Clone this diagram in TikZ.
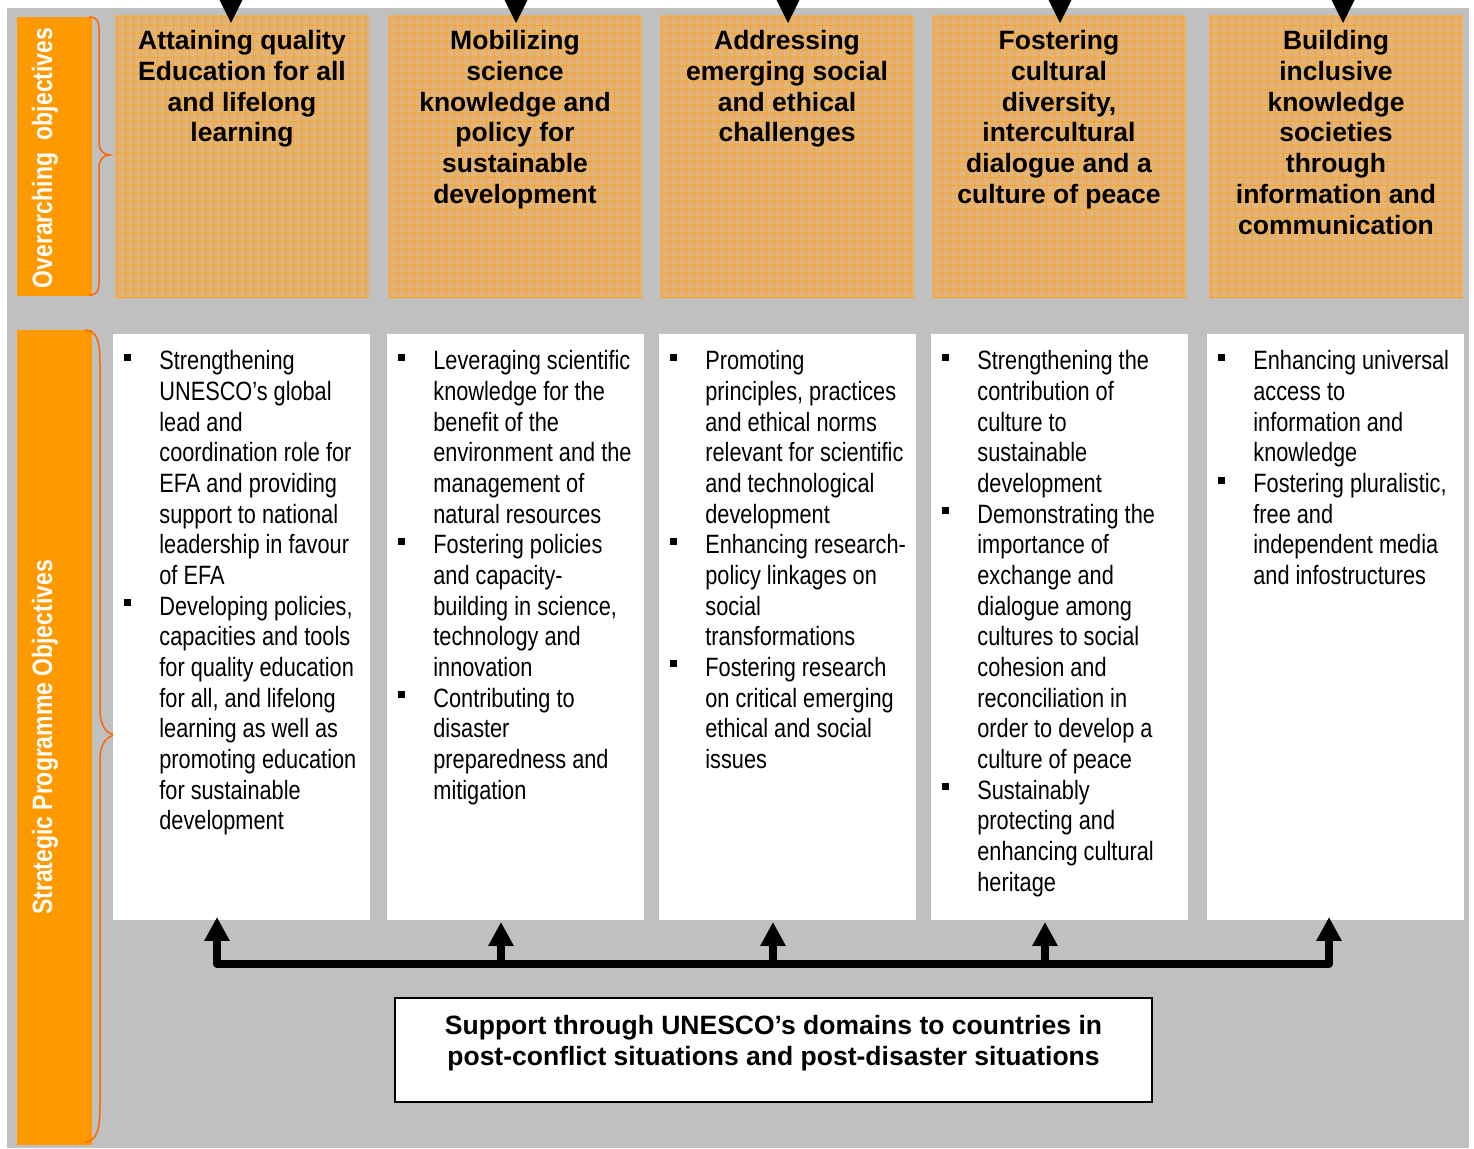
\documentclass[tikz,border=0pt]{standalone}
\usepackage{fontspec}
\setmainfont{Liberation Sans}
\newfontfamily\narrow{Liberation Sans}[FakeStretch=0.82]
\usetikzlibrary{arrows.meta,calc}

\definecolor{panelgray}{RGB}{192,192,192}
\definecolor{labelorange}{RGB}{255,153,0}
\definecolor{bracered}{RGB}{255,102,0}
\definecolor{tanfill}{RGB}{224,180,122}
\definecolor{gridorange}{RGB}{248,164,40}

% bullet square hanging to the left of an item's first line
\newcommand\bul{\llap{\rule[4.5pt]{3.5pt}{3.5pt}\hspace{14.25pt}}}
\newcommand\topline{\rule{0pt}{10pt}}

\begin{document}
\begin{tikzpicture}[x=0.5pt,y=-0.5pt,
  objbox/.style={fill=tanfill, minimum width=127pt, minimum height=141.5pt, inner sep=0},
  progbox/.style={fill=white, minimum width=128.5pt, minimum height=293pt, inner sep=0},
  titletext/.style={anchor=north, inner sep=0, align=center,
    font=\bfseries\fontsize{13.25pt}{15.42pt}\selectfont},
  bullets/.style={anchor=north west, inner sep=0, align=left,
    font=\narrow\fontsize{13.25pt}{15.33pt}\selectfont},
  sidelabel/.style={rotate=90, anchor=base, inner sep=0, text=white,
    font=\narrow\bfseries\fontsize{14pt}{16pt}\selectfont},
  sidebar/.style={fill=labelorange, minimum width=37.5pt, inner sep=0},
  bracepath/.style={draw=bracered, line width=0.75pt},
  gridl/.style={draw=gridorange, line width=0.55pt},
  bus/.style={line width=3.75pt, line join=round},
  uptip/.style={-{Triangle[length=12pt,width=12pt]}},
  downmark/.style={fill=black}]

\useasboundingbox (0,0) rectangle (1474,1149);

% panel background
\fill[panelgray] (7,8) rectangle (1469,1148);

% side bars
\node[sidebar, minimum height=139.5pt] (ovbar) at (54.5,156.5) {};
\node[sidebar, minimum height=407.5pt] (spbar) at (54.5,737.5) {};
\node[sidelabel] (ovlab) at (52,158) {Overarching\ \ objectives};
\node[sidelabel] (splab) at (52,737.5) {Strategic Programme Objectives};

% braces
\draw[bracepath] (89,17) .. controls (97,17) and (99,21) .. (99,30) -- (99,142)
  .. controls (99,150) and (103,155) .. (110,155)
  .. controls (103,155) and (99,160) .. (99,168) -- (99,282)
  .. controls (99,291) and (97,295) .. (89,295);
\draw[bracepath] (85,330) .. controls (97,331) and (100,340) .. (100,365) -- (100,710)
  .. controls (100,728) and (108,735) .. (117,735)
  .. controls (108,735) and (100,742) .. (100,760) -- (100,1105)
  .. controls (100,1130) and (97,1141) .. (85,1142);

% overarching objective boxes with grid texture
\foreach \i/\cx in {1/242,2/515,3/787,4/1059,5/1336}{
  \node[objbox] (o\i) at (\cx,156.5) {};
  \begin{scope}
    \clip (o\i.south west) rectangle (o\i.north east);
    \foreach \k in {0,...,33}{
      \draw[gridl] ($(o\i.north west)+(\k*8+3,0)$) -- ++(0,290);
    }
    \foreach \k in {0,...,36}{
      \draw[gridl] ($(o\i.north west)+(0,\k*8+3)$) -- ++(260,0);
    }
  \end{scope}
}

% downward marks above the boxes
\foreach \j/\ax in {1/231,2/516,3/788,4/1060,5/1343}{
  \coordinate (d\j) at (\ax,23);
  \fill[downmark] (d\j) -- ++(-11.5,-23) -- ++(23,0) -- cycle;
}

\node[titletext] (t1) at (242,29) {\topline Attaining quality\\Education for all\\and lifelong\\learning};
\node[titletext] (t2) at (515,29) {\topline Mobilizing\\science\\knowledge and\\policy for\\sustainable\\development};
\node[titletext] (t3) at (787,29) {\topline Addressing\\emerging social\\and ethical\\challenges};
\node[titletext] (t4) at (1059,29) {\topline Fostering\\cultural\\diversity,\\intercultural\\dialogue and a\\culture of peace};
\node[titletext] (t5) at (1336,29) {\topline Building\\inclusive\\knowledge\\societies\\through\\information and\\communication};

% strategic programme objective boxes
\foreach \i/\cx in {1/241.5,2/515.5,3/787.5,4/1059.5,5/1335.5}{
  \node[progbox] (s\i) at (\cx,627) {};
}

\node[bullets] (p1) at (159,349.5) {\topline\bul Strengthening\\UNESCO’s global\\lead and\\coordination role for\\EFA and providing\\support to national\\leadership in favour\\of EFA\\
\bul Developing policies,\\capacities and tools\\for quality education\\for all, and lifelong\\learning as well as\\promoting education\\for sustainable\\development};

\node[bullets] (p2) at (433,349.5) {\topline\bul Leveraging scientific\\knowledge for the\\benefit of the\\environment and the\\management of\\natural resources\\
\bul Fostering policies\\and capacity-\\building in science,\\technology and\\innovation\\
\bul Contributing to\\disaster\\preparedness and\\mitigation};

\node[bullets] (p3) at (705,349.5) {\topline\bul Promoting\\principles, practices\\and ethical norms\\relevant for scientific\\and technological\\development\\
\bul Enhancing research-\\policy linkages on\\social\\transformations\\
\bul Fostering research\\on critical emerging\\ethical and social\\issues};

\node[bullets] (p4) at (977,349.5) {\topline\bul Strengthening the\\contribution of\\culture to\\sustainable\\development\\
\bul Demonstrating the\\importance of\\exchange and\\dialogue among\\cultures to social\\cohesion and\\reconciliation in\\order to develop a\\culture of peace\\
\bul Sustainably\\protecting and\\enhancing cultural\\heritage};

\node[bullets] (p5) at (1253,349.5) {\topline\bul Enhancing universal\\access to\\information and\\knowledge\\
\bul Fostering pluralistic,\\free and\\independent media\\and infostructures};

% support box
\node[draw=black, line width=0.75pt, fill=white, minimum width=378.5pt, minimum height=52pt, inner sep=0] (sup) at (773.5,1050) {};
\node[titletext] (suptext) at (773.5,1014) {\topline Support through UNESCO’s domains to countries in\\post-conflict situations and post-disaster situations};

% distribution bus from the support box to the programme columns
\coordinate (b1) at (217,964);
\coordinate (b2) at (501,964);
\coordinate (b3) at (773,964);
\coordinate (b4) at (1045,964);
\coordinate (b5) at (1329,964);
\coordinate (u1) at (217,917);
\coordinate (u2) at (501,922);
\coordinate (u3) at (773,922);
\coordinate (u4) at (1045,922);
\coordinate (u5) at (1329,917);

\draw[bus, {Triangle[length=12pt,width=12pt]}-{Triangle[length=12pt,width=12pt]}] (u1) -- (b1) -- (b5) -- (u5);
\foreach \j in {2,3,4}{
  \draw[bus, uptip] (b\j) -- (u\j);
}
\end{tikzpicture}
\end{document}
